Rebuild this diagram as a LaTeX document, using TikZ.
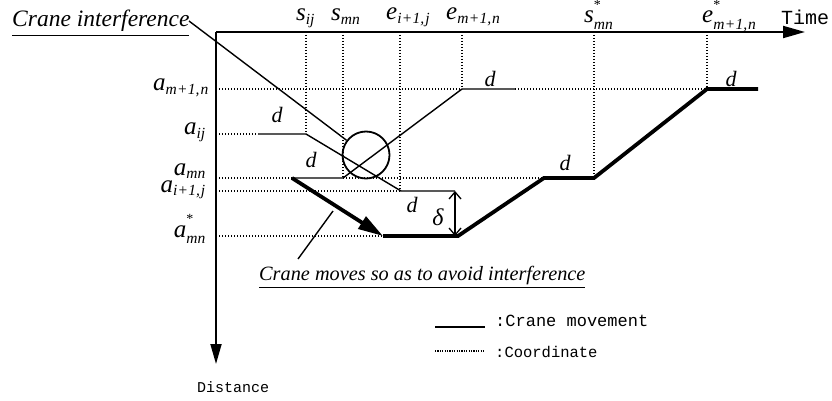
\documentclass[tikz,border=0pt]{standalone}
\usepackage{fontspec}
\usepackage{amsmath}
\setmainfont{Liberation Serif}
\newfontfamily\monofont{Liberation Mono}
\usetikzlibrary{arrows.meta}
\newcommand\sbs[1]{\text{\fontsize{15.5}{15}\selectfont\itshape #1}}
\newcommand\sps{\text{\fontsize{14}{14}\selectfont\raisebox{4pt}{*}}}
\newcommand\labsub[2]{\textit{#1}$_{\sbs{#2}}$}
\newcommand\labss[2]{\textit{#1}$^{\sps}_{\sbs{#2}}$}
\newcommand\pl{\kern0.3pt+\kern0.3pt}
\begin{document}
\begin{tikzpicture}[x=1pt,y=-1pt,
  axisline/.style={line width=1.8pt},
  thinpath/.style={line width=1.4pt},
  thickpath/.style={line width=3.8pt},
  dotline/.style={line width=1.4pt,dash pattern=on 1.4pt off 1.6pt},
  lettr/.style={font=\fontsize{25}{28}\selectfont,inner sep=0pt},
  dlab/.style={font=\fontsize{22}{24}\selectfont\itshape,inner sep=0pt},
  note/.style={inner sep=0pt,font=\fontsize{23.5}{26}\selectfont\itshape},
  mono/.style={inner sep=0pt,font=\fontsize{17}{19}\selectfont\monofont}]
\useasboundingbox (0,0) rectangle (832,401);
% coordinates
\coordinate (O) at (216,32);
\coordinate (T) at (805,32);
\coordinate (D) at (216,364);
% level ends on axis
\coordinate (LA) at (216,89);
\coordinate (LB) at (216,134);
\coordinate (LC) at (216,178);
\coordinate (LE) at (216,191);
\coordinate (LF) at (216,236);
% vertical tops
\coordinate (V1) at (306,32);
\coordinate (V2) at (343,32);
\coordinate (V3) at (400,32);
\coordinate (V4) at (462,32);
\coordinate (V5) at (594,32);
\coordinate (V6) at (707,32);
% path points
\coordinate (P1) at (258,134);
\coordinate (P2) at (306,134);
\coordinate (P3) at (401,191);
\coordinate (P3v) at (400,191);
\coordinate (P4) at (455,191);
\coordinate (Q1) at (292,178);
\coordinate (Q2) at (343,178);
\coordinate (Q3) at (462,89);
\coordinate (Q4) at (515,89);
\coordinate (R1) at (383,236);
\coordinate (R2) at (458,236);
\coordinate (R3) at (544,178);
\coordinate (R4) at (594,178);
\coordinate (R5) at (707,89);
\coordinate (R6) at (758,89);
\coordinate (D1) at (455,191);
\coordinate (D2) at (455,236);
% dotted grid
\draw[dotline] (LA) -- (Q3);
\draw[dotline] (Q4) -- (R5);
\draw[dotline] (LB) -- (P1);
\draw[dotline] (LC) -- (Q1);
\draw[dotline] (Q2) -- (R3);
\draw[dotline] (LE) -- (P3v);
\draw[dotline] (LF) -- (R1);
\draw[dotline] (V1) -- (P2);
\draw[dotline] (V2) -- (Q2);
\draw[dotline] (V3) -- (P3v);
\draw[dotline] (V4) -- (Q3);
\draw[dotline] (V5) -- (R4);
\draw[dotline] (V6) -- (R5);
% axes
\draw[axisline,-{Triangle[length=22pt,width=12pt]}] (O) -- (T);
\draw[axisline,-{Triangle[length=20pt,width=11pt]}] (O) -- (D);
% thin paths
\draw[thinpath] (P1) -- (P2) -- (P3) -- (P4);
\draw[thinpath] (Q1) -- (Q2) -- (Q3) -- (Q4);
% thick path
\draw[thickpath,-{Triangle[length=25pt,width=14pt]}] (Q1) -- (R1);
\draw[thickpath,line join=miter] (R1) -- (R2) -- (R3) -- (R4) -- (R5) -- (R6);
% delta
\draw[line width=1.3pt,{Straight Barb[length=7pt,width=12pt]}-{Straight Barb[length=7pt,width=12pt]}] (D1) -- (D2);
\node[dlab,font=\fontsize{24}{26}\selectfont\itshape] (delta) at (438,217) {δ};
% circle
\node[draw,circle,line width=1.8pt,minimum size=47pt,inner sep=0pt] (circ) at (366,155) {};
% top labels
\node[lettr,anchor=base west] (s1) at (296,21) {\labsub{s}{ij}};
\node[lettr,anchor=base west] (s2) at (331,21) {\labsub{s}{mn}};
\node[lettr,anchor=base west] (e1) at (386,20) {\labsub{e}{i\pl1,\kern1pt j}};
\node[lettr,anchor=base west] (e2) at (446,20) {\labsub{e}{m\pl1,\kern1pt n}};
\node[lettr,anchor=base west] (s3) at (584,23) {\labss{s}{mn}};
\node[lettr,anchor=base west] (e3) at (702,23) {\labss{e}{m\pl1,\kern1pt n}};
\node[mono,anchor=base west,font=\fontsize{20}{22}\selectfont\monofont] (time) at (781,25) {Time};
% left labels
\node[lettr,anchor=base east] (a1) at (209,91) {\labsub{a}{m\pl1,\kern1pt n}};
\node[lettr,anchor=base east] (a2) at (206,135) {\labsub{a}{ij}};
\node[lettr,anchor=base east] (a3) at (206,175) {\labsub{a}{mn}};
\node[lettr,anchor=base east] (a4) at (206,192) {\labsub{a}{i\pl1,\kern1pt j}};
\node[lettr,anchor=base east] (a5) at (206,237) {\labss{a}{mn}};
% d labels
\node[dlab] (d1) at (277,115) {d};
\node[dlab] (d2) at (311,160) {d};
\node[dlab] (d3) at (412,205) {d};
\node[dlab] (d4) at (490,79) {d};
\node[dlab] (d5) at (565,163) {d};
\node[dlab] (d6) at (731,79) {d};
% notes
\node[note,anchor=base west] (ci) at (12,27) {\underline{Crane interference}};
\coordinate (ciend) at (189,21);
\draw[thinpath] (ciend) -- (circ);
\node[note,anchor=base west,font=\fontsize{20.3}{24}\selectfont\itshape] (cm) at (259,280) {\underline{Crane moves so as to avoid interference}};
\coordinate (cmA) at (298,259);
\coordinate (cmB) at (333,211);
\draw[thinpath] (cmA) -- (cmB);
% legend
\coordinate (L1a) at (435,327);
\coordinate (L1b) at (485,327);
\coordinate (L2a) at (435,351);
\coordinate (L2b) at (485,351);
\draw[line width=1.8pt] (L1a) -- (L1b);
\draw[line width=1.2pt,dash pattern=on 1.2pt off 1.2pt] (L2a) -- (L2b);
\node[mono,anchor=base west] (leg1) at (495,326) {:Crane movement};
\node[mono,anchor=base west,font=\fontsize{15.5}{18}\selectfont\monofont] (leg2) at (495,357) {:Coordinate};
\node[mono,anchor=base west,font=\fontsize{15}{18}\selectfont\monofont] (dist) at (197,392) {Distance};
\end{tikzpicture}
\end{document}
